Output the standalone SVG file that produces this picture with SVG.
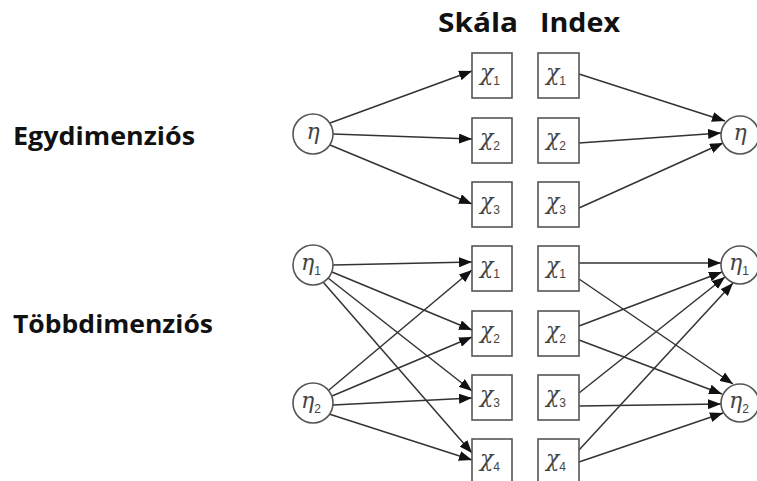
<svg xmlns="http://www.w3.org/2000/svg" width="757" height="481" viewBox="0 0 757 481">
<style>
.lbl{font-family:"Open Sans","Liberation Sans",sans-serif;font-weight:bold;fill:#111}
.box{fill:#fff;stroke:#555;stroke-width:1.6}
.circ{fill:#fff;stroke:#555;stroke-width:1.6}
.var{font-family:"DejaVu Serif","Liberation Serif",serif;font-style:italic;font-size:22px;fill:#444}
.sub{font-family:"Liberation Sans",sans-serif;font-style:normal;font-size:12px}
.con line{stroke:#333;stroke-width:1.5;marker-end:url(#ah)}
</style>
<defs>
<marker id="ah" viewBox="0 0 13 10" refX="13" refY="5" markerWidth="13" markerHeight="10" markerUnits="userSpaceOnUse" orient="auto">
<path d="M0,0 L13,5 L0,10 z" fill="#111"/>
</marker>
</defs>
<rect width="757" height="481" fill="#fff"/>
<g id="headings">
<text class="lbl" x="438" y="32" font-size="27" textLength="80" lengthAdjust="spacingAndGlyphs">Skála</text>
<text class="lbl" x="540" y="32" font-size="27" textLength="80" lengthAdjust="spacingAndGlyphs">Index</text>
<text class="lbl" x="13" y="145" font-size="25" textLength="182" lengthAdjust="spacingAndGlyphs">Egydimenziós</text>
<text class="lbl" x="13" y="333" font-size="25" textLength="200" lengthAdjust="spacingAndGlyphs">Többdimenziós</text>
</g>
<g class="con" id="connectors">
<line x1="330" y1="123" x2="472" y2="71"/>
<line x1="333" y1="134" x2="472" y2="139"/>
<line x1="330" y1="145" x2="472" y2="204"/>
<line x1="579" y1="74" x2="725" y2="121"/>
<line x1="579" y1="143" x2="721" y2="133"/>
<line x1="579" y1="208" x2="723" y2="143"/>
<line x1="333" y1="265" x2="472" y2="262"/>
<line x1="329" y1="390" x2="472" y2="270"/>
<line x1="332" y1="272" x2="472" y2="330"/>
<line x1="332" y1="396" x2="472" y2="337"/>
<line x1="328" y1="278" x2="472" y2="391"/>
<line x1="333" y1="405" x2="472" y2="398"/>
<line x1="323" y1="282" x2="472" y2="453"/>
<line x1="329" y1="414" x2="472" y2="460"/>
<line x1="579" y1="263" x2="721" y2="263"/>
<line x1="579" y1="279" x2="733" y2="384"/>
<line x1="579" y1="326" x2="722" y2="272"/>
<line x1="579" y1="340" x2="722" y2="394"/>
<line x1="579" y1="393" x2="725" y2="277"/>
<line x1="579" y1="406" x2="721" y2="404"/>
<line x1="579" y1="450" x2="733" y2="283"/>
<line x1="579" y1="462" x2="723" y2="413"/>
</g>
<g id="eta-top-left"><circle class="circ" cx="313" cy="134" r="20"/><text class="var" x="313" y="139" text-anchor="middle">η</text></g>
<g id="eta-top-right"><circle class="circ" cx="740" cy="135" r="19"/><text class="var" x="740" y="140" text-anchor="middle">η</text></g>
<g id="eta1-left"><circle class="circ" cx="313" cy="265" r="20"/><text class="var" x="301" y="270">η<tspan class="sub" dy="5">1</tspan></text></g>
<g id="eta2-left"><circle class="circ" cx="313" cy="403" r="20"/><text class="var" x="301" y="408">η<tspan class="sub" dy="5">2</tspan></text></g>
<g id="eta1-right"><circle class="circ" cx="740" cy="265" r="19"/><text class="var" x="729" y="270">η<tspan class="sub" dy="5">1</tspan></text></g>
<g id="eta2-right"><circle class="circ" cx="740" cy="403" r="19"/><text class="var" x="729" y="408">η<tspan class="sub" dy="5">2</tspan></text></g>
<g id="s-top-1"><rect class="box" x="472" y="53" width="40" height="45"/><text class="var" x="480" y="80">χ<tspan class="sub" dy="5">1</tspan></text></g>
<g id="s-top-2"><rect class="box" x="472" y="118" width="40" height="45"/><text class="var" x="480" y="145">χ<tspan class="sub" dy="5">2</tspan></text></g>
<g id="s-top-3"><rect class="box" x="472" y="182" width="40" height="45"/><text class="var" x="480" y="209">χ<tspan class="sub" dy="5">3</tspan></text></g>
<g id="i-top-1"><rect class="box" x="538" y="53" width="41" height="45"/><text class="var" x="546" y="80">χ<tspan class="sub" dy="5">1</tspan></text></g>
<g id="i-top-2"><rect class="box" x="538" y="118" width="41" height="45"/><text class="var" x="546" y="145">χ<tspan class="sub" dy="5">2</tspan></text></g>
<g id="i-top-3"><rect class="box" x="538" y="182" width="41" height="45"/><text class="var" x="546" y="209">χ<tspan class="sub" dy="5">3</tspan></text></g>
<g id="s-bot-1"><rect class="box" x="472" y="246" width="40" height="45"/><text class="var" x="480" y="273">χ<tspan class="sub" dy="5">1</tspan></text></g>
<g id="s-bot-2"><rect class="box" x="472" y="311" width="40" height="45"/><text class="var" x="480" y="338">χ<tspan class="sub" dy="5">2</tspan></text></g>
<g id="s-bot-3"><rect class="box" x="472" y="375" width="40" height="45"/><text class="var" x="480" y="402">χ<tspan class="sub" dy="5">3</tspan></text></g>
<g id="s-bot-4"><rect class="box" x="472" y="439" width="40" height="45"/><text class="var" x="480" y="466">χ<tspan class="sub" dy="5">4</tspan></text></g>
<g id="i-bot-1"><rect class="box" x="538" y="246" width="41" height="45"/><text class="var" x="546" y="273">χ<tspan class="sub" dy="5">1</tspan></text></g>
<g id="i-bot-2"><rect class="box" x="538" y="311" width="41" height="45"/><text class="var" x="546" y="338">χ<tspan class="sub" dy="5">2</tspan></text></g>
<g id="i-bot-3"><rect class="box" x="538" y="375" width="41" height="45"/><text class="var" x="546" y="402">χ<tspan class="sub" dy="5">3</tspan></text></g>
<g id="i-bot-4"><rect class="box" x="538" y="439" width="41" height="45"/><text class="var" x="546" y="466">χ<tspan class="sub" dy="5">4</tspan></text></g>
</svg>
